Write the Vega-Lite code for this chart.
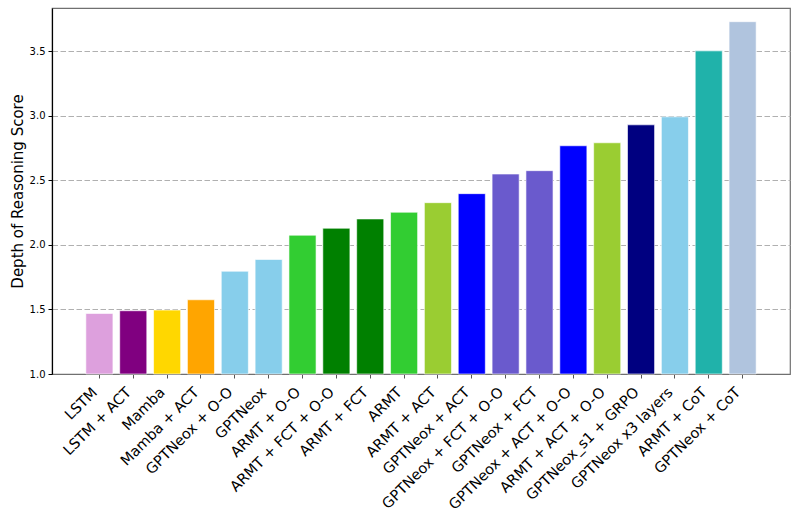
{
  "$schema": "https://vega.github.io/schema/vega-lite/v6.json",
  "autosize": {"type": "none"},
  "padding": {"left": 52, "top": 8, "right": 8, "bottom": 151},
  "width": 738,
  "height": 366,
  "background": "white",
  "config": {
    "font": "DejaVu Sans",
    "view": {"stroke": "#707070", "strokeWidth": 1.2}
  },
  "data": {
    "values": [
      {"model": "LSTM", "score": 1.469, "color": "#DDA0DD"},
      {"model": "LSTM + ACT", "score": 1.490, "color": "#800080"},
      {"model": "Mamba", "score": 1.495, "color": "#FFD700"},
      {"model": "Mamba + ACT", "score": 1.575, "color": "#FFA500"},
      {"model": "GPTNeox + O-O", "score": 1.796, "color": "#87CEEB"},
      {"model": "GPTNeox", "score": 1.887, "color": "#87CEEB"},
      {"model": "ARMT + O-O", "score": 2.075, "color": "#32CD32"},
      {"model": "ARMT + FCT + O-O", "score": 2.129, "color": "#008000"},
      {"model": "ARMT + FCT", "score": 2.201, "color": "#008000"},
      {"model": "ARMT", "score": 2.253, "color": "#32CD32"},
      {"model": "ARMT + ACT", "score": 2.327, "color": "#9ACD32"},
      {"model": "GPTNeox + ACT", "score": 2.397, "color": "#0000FF"},
      {"model": "GPTNeox + FCT + O-O", "score": 2.549, "color": "#6A5ACD"},
      {"model": "GPTNeox + FCT", "score": 2.575, "color": "#6A5ACD"},
      {"model": "GPTNeox + ACT + O-O", "score": 2.768, "color": "#0000FF"},
      {"model": "ARMT + ACT + O-O", "score": 2.791, "color": "#9ACD32"},
      {"model": "GPTNeox_s1 + GRPO", "score": 2.930, "color": "#000080"},
      {"model": "GPTNeox x3 layers", "score": 2.992, "color": "#87CEEB"},
      {"model": "ARMT + CoT", "score": 3.503, "color": "#20B2AA"},
      {"model": "GPTNeox + CoT", "score": 3.729, "color": "#B0C4DE"}
    ]
  },
  "mark": {"type": "bar", "stroke": "white", "strokeOpacity": 0.6, "strokeWidth": 1},
  "encoding": {
    "x": {
      "field": "model",
      "type": "nominal",
      "sort": null,
      "scale": {"paddingInner": 0.2, "paddingOuter": 1.0},
      "axis": {
        "title": null,
        "labelAngle": -45,
        "labelAlign": "right",
        "labelBaseline": "top",
        "labelFontSize": 14.5,
        "labelColor": "black",
        "labelPadding": 7,
        "labelOffset": -9,
        "labelLimit": 300,
        "tickSize": 4,
        "tickColor": "#555",
        "domainColor": "#707070",
        "domainWidth": 1.2,
        "grid": false
      }
    },
    "y": {
      "field": "score",
      "type": "quantitative",
      "scale": {"domain": [1.0, 3.835], "nice": false, "zero": false},
      "axis": {
        "title": "Depth of Reasoning Score",
        "titleFontSize": 15,
        "titleFontWeight": "normal",
        "titleColor": "black",
        "titlePadding": 4,
        "values": [1.0, 1.5, 2.0, 2.5, 3.0, 3.5],
        "format": ".1f",
        "labelFontSize": 10,
        "labelColor": "black",
        "labelPadding": 3,
        "tickSize": 4,
        "tickColor": "black",
        "domainColor": "black",
        "domainWidth": 1.2,
        "grid": true,
        "gridColor": "#b0b0b0",
        "gridDash": [5.5, 2.5],
        "gridWidth": 1.2
      }
    },
    "y2": {"datum": 1.0},
    "color": {"field": "color", "type": "nominal", "scale": null, "legend": null}
  }
}
